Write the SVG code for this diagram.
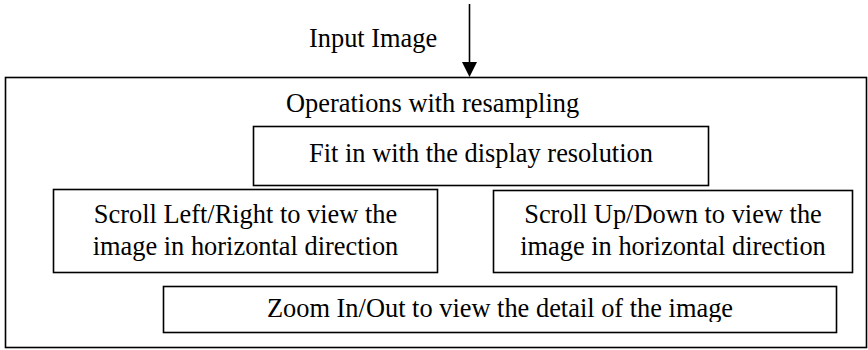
<svg xmlns="http://www.w3.org/2000/svg" width="868" height="350" viewBox="0 0 868 350">
<style>
.box{fill:#fff;stroke:#000;stroke-width:1.6}
.t{font-family:"Liberation Serif","Times New Roman",serif;font-size:26.4px;fill:#000}
.c{text-anchor:middle}
</style>
<defs>
<marker id="ah" markerWidth="15" markerHeight="15" refX="7.5" refY="15" orient="auto" markerUnits="userSpaceOnUse" viewBox="0 0 15 15">
<path d="M0,0 L15,0 L7.5,15 Z" fill="#000" transform="rotate(-90 7.5 7.5)"/>
</marker>
<clipPath id="zc"><rect x="164" y="287" width="672" height="35"/></clipPath>
</defs>
<g id="outer">
<rect class="box" x="5.5" y="77.5" width="861" height="270"/>
<text class="t" x="286" y="112">Operations with resampling</text>
</g>
<g id="input-label">
<text class="t" x="309" y="47">Input Image</text>
</g>
<g id="fit">
<rect class="box" x="253.5" y="126.5" width="455" height="59"/>
<text class="t c" x="481" y="162">Fit in with the display resolution</text>
</g>
<g id="scroll-lr">
<rect class="box" x="53.5" y="189.5" width="384" height="83"/>
<text class="t c" x="245.5" y="223">Scroll Left/Right to view the</text>
<text class="t c" x="245.5" y="255">image in horizontal direction</text>
</g>
<g id="scroll-ud">
<rect class="box" x="493.5" y="190.5" width="359" height="82"/>
<text class="t c" x="673" y="223">Scroll Up/Down to view the</text>
<text class="t c" x="673" y="255">image in horizontal direction</text>
</g>
<g id="zoom">
<rect class="box" x="163.5" y="286.5" width="673" height="46"/>
<text class="t c" x="500" y="317" clip-path="url(#zc)">Zoom In/Out to view the detail of the image</text>
</g>
<g id="connectors">
<line x1="469.5" y1="4" x2="469.5" y2="62" stroke="#000" stroke-width="1.6"/>
<path d="M462,62 L477,62 L469.5,77 Z" fill="#000"/>
</g>
</svg>
